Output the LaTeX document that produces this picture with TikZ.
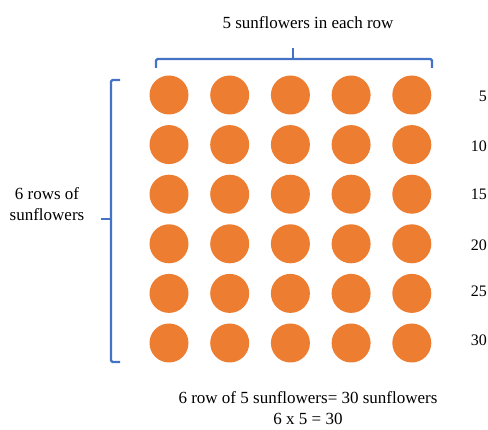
\documentclass[tikz,border=0pt]{standalone}
\usepackage{fontspec}
\setmainfont{Liberation Serif}
\usetikzlibrary{positioning}
\definecolor{flowerorange}{HTML}{ED7D31}
\definecolor{braceblue}{HTML}{4472C4}

\begin{document}
\begin{tikzpicture}[x=1pt,y=-1pt,node distance=49.6pt and 60.7pt,on grid,flower/.style={circle,fill=flowerorange,inner sep=0pt,minimum size=39pt},brace/.style={draw=braceblue,line width=2.4pt,rounded corners=1.5pt},label text/.style={font=\fontsize{17}{21}\selectfont,align=center},count/.style={font=\fontsize{16}{19}\selectfont,anchor=east,inner sep=0pt}]
		
		\useasboundingbox (0,0) rectangle (488,430);
		
		\node[flower] (11) at (169,95) { };
		\node[flower] (12) [right=of 11] { };
		\node[flower] (13) [right=of 12] { };
		\node[flower] (14) [right=of 13] { };
		\node[flower] (15) [right=of 14] { };
		\node[flower] (21) [below=of 11] { };
		\node[flower] (22) [right=of 21] { };
		\node[flower] (23) [right=of 22] { };
		\node[flower] (24) [right=of 23] { };
		\node[flower] (25) [right=of 24] { };
		\node[flower] (31) [below=of 21] { };
		\node[flower] (32) [right=of 31] { };
		\node[flower] (33) [right=of 32] { };
		\node[flower] (34) [right=of 33] { };
		\node[flower] (35) [right=of 34] { };
		\node[flower] (41) [below=of 31] { };
		\node[flower] (42) [right=of 41] { };
		\node[flower] (43) [right=of 42] { };
		\node[flower] (44) [right=of 43] { };
		\node[flower] (45) [right=of 44] { };
		\node[flower] (51) [below=of 41] { };
		\node[flower] (52) [right=of 51] { };
		\node[flower] (53) [right=of 52] { };
		\node[flower] (54) [right=of 53] { };
		\node[flower] (55) [right=of 54] { };
		\node[flower] (61) [below=of 51] { };
		\node[flower] (62) [right=of 61] { };
		\node[flower] (63) [right=of 62] { };
		\node[flower] (64) [right=of 63] { };
		\node[flower] (65) [right=of 64] { };
		
		\node[count] (n1) at (487,96) {5};
		\node[count] (n2) at (487,146) {10};
		\node[count] (n3) at (487,194) {15};
		\node[count] (n4) at (487,245) {20};
		\node[count] (n5) at (487,291) {25};
		\node[count] (n6) at (487,340) {30};
		
		\node[label text] (top) at (308,23) {5 sunflowers in each row};
		\node[label text] (side) at (47,204) {6 rows of\\sunflowers};
		\node[label text] (total) at (308,408) {6 row of 5 sunflowers= 30 sunflowers\\6 x 5 = 30};
		
		% braces
		\draw[brace] (156,68) -- (156,59) -- (432,59) -- (432,68);
		\draw[brace] (293,59) -- (293,48);
		\draw[brace] (120,80) -- (111,80) -- (111,362) -- (120,362);
		\draw[brace] (111,219) -- (101,219);
		
\end{tikzpicture}
\end{document}
